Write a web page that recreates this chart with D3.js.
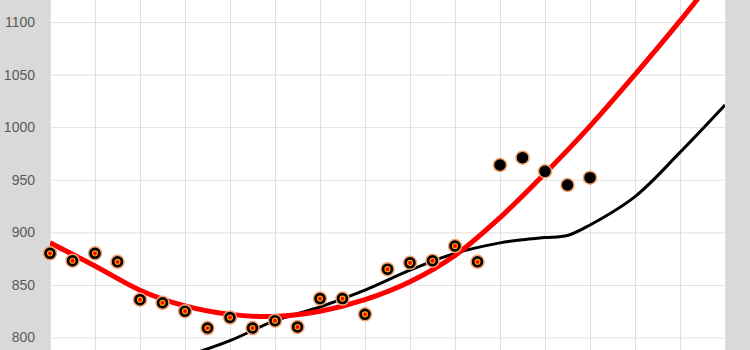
<!DOCTYPE html>
<html>
<head>
<meta charset="utf-8">
<script src="https://cdn.jsdelivr.net/npm/d3@7"></script>
<style>
  html, body { margin: 0; padding: 0; background: #fff; }
  svg { display: block; }
</style>
</head>
<body>
<svg id="chart" width="750" height="350"></svg>
<script>
// observations (x = sample index)
const sampleIdx = [0, 1, 2, 3, 4, 5, 6, 7, 8, 9, 10, 11, 12, 13, 14, 15, 16, 17, 18, 19, 20, 21, 22, 23, 24];
const observed = [880, 873, 880, 872, 836, 833, 825, 809, 819, 809, 816, 810, 837, 837, 822, 865, 871, 873, 887, 872, 964, 971, 958, 945, 952];
// the first 20 samples are the ones used for the fit (marked with a red dot)
const fittedIdx = [0, 1, 2, 3, 4, 5, 6, 7, 8, 9, 10, 11, 12, 13, 14, 15, 16, 17, 18, 19];
const fittedVals = [880, 873, 880, 872, 836, 833, 825, 809, 819, 809, 816, 810, 837, 837, 822, 865, 871, 873, 887, 872];

// polynomial trend (red)
const trendIdx = [0, 2, 4, 6, 8, 10, 12, 14, 16, 18, 20, 22, 24, 26, 28, 30];
const trendVals = [890, 868, 845, 830, 822, 820, 825, 836, 853, 878, 914, 956, 1001, 1050, 1101, 1155];

// smoothed line (black)
const smoothIdx = [6, 8, 10, 12, 14, 16, 18, 20, 21, 22, 23, 24, 26, 28, 30];
const smoothVals = [782, 797, 816, 829, 845, 864, 880, 890, 893, 895, 897, 907, 934, 976, 1021];

const yTicks = [800, 850, 900, 950, 1000, 1050, 1100];
const xGrid = [0, 2, 4, 6, 8, 10, 12, 14, 16, 18, 20, 22, 24, 26, 28, 30];

const W = 750, H = 350;
const left = 50, right = 725;

const svg = d3.select('#chart');

const x = d3.scaleLinear().domain([0, 30]).range([left, right]);
const y = d3.scaleLinear().domain([800, 1100]).range([337.5, 22]);

// grey side bands
svg.append('rect').attr('x', 0).attr('y', 0).attr('width', left).attr('height', H).attr('fill', '#d9d9d9');
svg.append('rect').attr('x', right).attr('y', 0).attr('width', W - right).attr('height', H).attr('fill', '#d9d9d9');

svg.append('defs').append('clipPath').attr('id', 'plot')
  .append('rect').attr('x', left).attr('y', 0).attr('width', right - left).attr('height', H);

// vertical grid
const xAxis = svg.append('g')
  .attr('transform', `translate(0,${H})`)
  .call(d3.axisBottom(x).tickValues(xGrid).tickSize(-H).tickFormat(''));
xAxis.select('.domain').remove();
xAxis.selectAll('.tick line').attr('stroke', '#e0e0e0').attr('stroke-width', 1);

// horizontal grid + labels
const yAxis = svg.append('g')
  .attr('transform', `translate(${left},0)`)
  .call(d3.axisLeft(y).tickValues(yTicks).tickSize(-(right - left)).tickPadding(15).tickFormat(d3.format('d')));
yAxis.select('.domain').remove();
yAxis.selectAll('.tick line').attr('stroke', '#e0e0e0').attr('stroke-width', 1);
yAxis.selectAll('.tick text')
  .attr('fill', '#595959')
  .style('font-family', '"Liberation Sans", Arial, sans-serif')
  .style('font-size', '14px');

const lines = svg.append('g').attr('clip-path', 'url(#plot)');

const line = d3.line()
  .x((d) => x(d[0]))
  .y((d) => y(d[1]))
  .curve(d3.curveCatmullRom.alpha(0.5));

lines.append('path')
  .datum(smoothIdx.map((t, i) => [t, smoothVals[i]]))
  .attr('d', line)
  .attr('fill', 'none')
  .attr('stroke', '#000')
  .attr('stroke-width', 3);

lines.append('path')
  .datum(trendIdx.map((t, i) => [t, trendVals[i]]))
  .attr('d', line)
  .attr('fill', 'none')
  .attr('stroke', '#ff0000')
  .attr('stroke-width', 5);

// markers
svg.append('g')
  .selectAll('circle')
  .data(sampleIdx.map((t, i) => [t, observed[i]]))
  .join('circle')
  .attr('cx', (d) => x(d[0]))
  .attr('cy', (d) => y(d[1]))
  .attr('r', 6.5)
  .attr('fill', '#000')
  .attr('stroke', '#f4a06a')
  .attr('stroke-width', 1.5);

svg.append('g')
  .selectAll('circle')
  .data(fittedIdx.map((t, i) => [t, fittedVals[i]]))
  .join('circle')
  .attr('cx', (d) => x(d[0]))
  .attr('cy', (d) => y(d[1]))
  .attr('r', 2.5)
  .attr('fill', '#ff0000')
  .attr('stroke', '#ffa500')
  .attr('stroke-width', 1.2);
</script>
</body>
</html>
